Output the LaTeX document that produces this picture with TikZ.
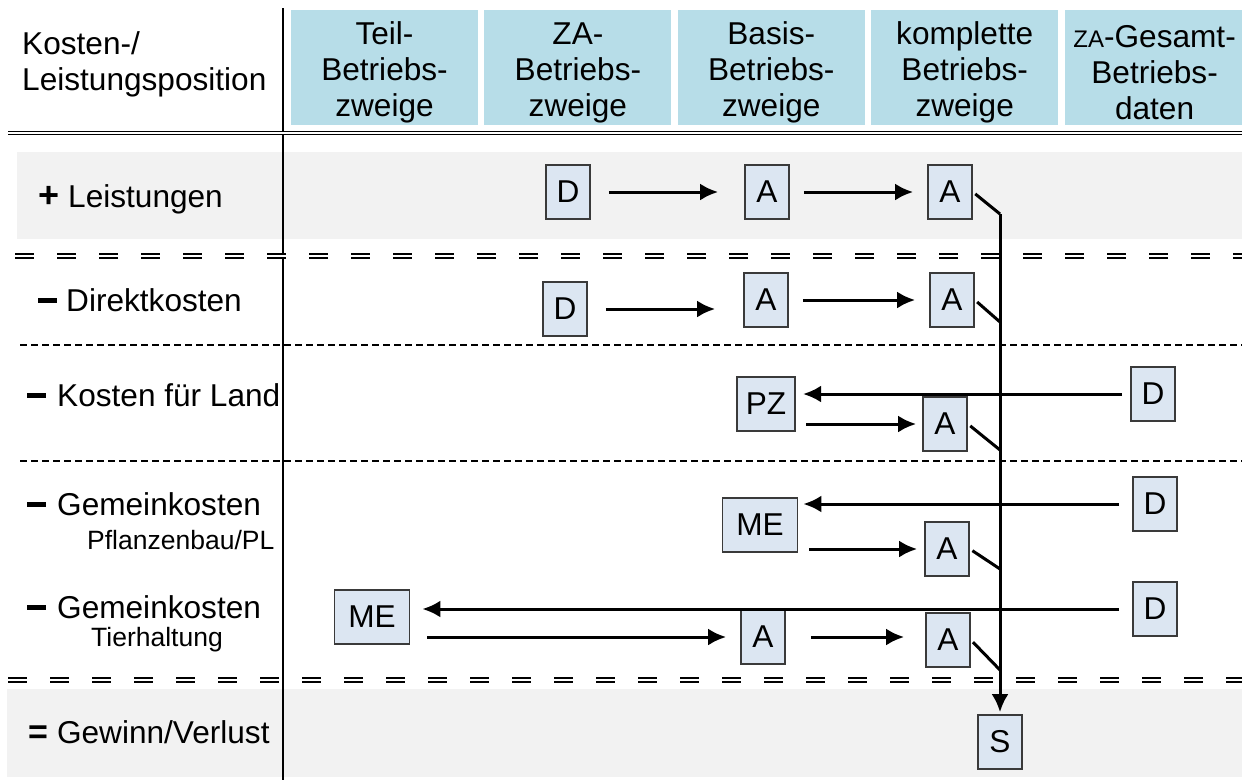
\documentclass[tikz,border=0pt]{standalone}
\usepackage{fontspec}
\setmainfont{Liberation Sans}
\usepackage{tikz}
\usetikzlibrary{arrows.meta,calc,positioning}

\definecolor{headblue}{HTML}{B7DDE8}
\definecolor{boxfill}{HTML}{DCE6F2}
\definecolor{boxline}{HTML}{3A3A3A}
\definecolor{bandgray}{HTML}{F2F2F2}

\newcommand{\bigfont}{\fontsize{31.6}{36}\selectfont}
\newcommand{\smallfont}{\fontsize{26.5}{30}\selectfont}
\newcommand{\minusbar}{\rule[8.5pt]{19pt}{5pt}}

\begin{document}
\begin{tikzpicture}[
  x=1pt, y=-1pt,
  headbox/.style={fill=headblue, minimum width=187pt, minimum height=115pt, inner sep=0pt},
  headtext/.style={align=center, font=\bigfont, inner sep=0pt, yshift=-5pt},
  valbox/.style={draw=boxline, fill=boxfill, line width=1.8pt, minimum width=44pt, minimum height=54pt, inner xsep=9pt, inner ysep=0pt, font=\bigfont},
  rowlabel/.style={anchor=base west, inner sep=0pt, font=\bigfont},
  sublabel/.style={anchor=base west, inner sep=0pt, font=\smallfont},
  ]
  \tikzset{%
    flow/.style={
      line width=3pt,
      -{Latex[length=18pt,width=17pt]},
      shorten <=14pt, shorten >=14pt,
    },
    spoke/.style={
      line width=3pt, shorten <=3pt,
    },
    twodash/.style={
      double, line width=1.6pt, double distance=2.2pt,
      dash pattern=on 19pt off 23pt,
    },
    onedash/.style={
      line width=1.6pt, dash pattern=on 7pt off 4pt,
    },
  }
  \useasboundingbox (0,0) rectangle (1242,780);
  %Bands
  \fill[bandgray] (17,152) rectangle (1242,239);
  \fill[bandgray] (7,689) rectangle (1242,777);
  %Separators
  \draw[line width=1.5pt] (283,8) -- (283,780);
  \draw[double, line width=1.3pt, double distance=1.4pt] (8,133) -- (1242,133);
  \draw[twodash] (15,256) -- (1242,256);
  \draw[onedash] (20,345) -- (1242,345);
  \draw[onedash] (20,461) -- (1242,461);
  \draw[twodash] (8,680) -- (1242,680);
  %Header
  \node[headbox] (h1) at (384.5,67.5) {};
  \node[headbox, right=6pt of h1] (h2) {};
  \node[headbox, right=6pt of h2] (h3) {};
  \node[headbox, right=6pt of h3] (h4) {};
  \node[headbox, right=6pt of h4, minimum width=180pt] (h5) {};
  \node[headtext] (t1) at (h1) {Teil-\\Betriebs-\\zweige};
  \node[headtext] (t2) at (h2) {ZA-\\Betriebs-\\zweige};
  \node[headtext] (t3) at (h3) {Basis-\\Betriebs-\\zweige};
  \node[headtext] (t4) at (h4) {komplette\\Betriebs-\\zweige};
  \node[headtext] (t5) at (h5) {{\fontsize{24}{36}\selectfont ZA}-Gesamt-\\Betriebs-\\daten};
  \node[anchor=west, align=left, font=\bigfont, inner sep=0pt] (kopf) at (22,64) {Kosten-/\\Leistungsposition};
  %Row labels
  \node[rowlabel] (leist) at (38,207) {\textbf{\fontsize{36}{36}\selectfont +}\hspace{9pt}Leistungen};
  \node[rowlabel] (direkt) at (38,311) {\minusbar\hspace{9pt}Direktkosten};
  \node[rowlabel] (land) at (27,406) {\minusbar\hspace{11pt}Kosten für Land};
  \node[rowlabel] (gkpl) at (27,515) {\minusbar\hspace{11pt}Gemeinkosten};
  \node[sublabel] (pl) at (87,549) {Pflanzenbau/PL};
  \node[rowlabel] (gktier) at (27,618) {\minusbar\hspace{11pt}Gemeinkosten};
  \node[sublabel] (tier) at (91,646) {Tierhaltung};
  \node[rowlabel] (gewinn) at (28,743) {\textbf{\fontsize{34}{34}\selectfont =}\hspace{9pt}Gewinn/Verlust};
  %Boxes
  \node[valbox] (dl) at (568,192) {D};
  \node[valbox] (al1) at (767,192) {A};
  \node[valbox] (al2) at (950,192) {A};
  \node[valbox] (dd) at (565,309) {D};
  \node[valbox] (ad1) at (766,300) {A};
  \node[valbox] (ad2) at (952,300) {A};
  \node[valbox] (dland) at (1153,394) {D};
  \node[valbox] (pz) at (766,404) {PZ};
  \node[valbox] (aland) at (945,424) {A};
  \node[valbox] (dpl) at (1155,504) {D};
  \node[valbox, minimum width=75pt] (mepl) at (760,525) {ME};
  \node[valbox] (apl) at (947,549) {A};
  \node[valbox] (dtier) at (1155,609) {D};
  \node[valbox, minimum width=75pt] (metier) at (372,617) {ME};
  \node[valbox] (atier1) at (763,637) {A};
  \node[valbox] (atier2) at (948,640) {A};
  \node[valbox] (s) at (1000,742) {S};
  %Arrows
  \draw[flow, shorten <=18pt, shorten >=26pt] (dl) -- (al1);
  \draw[flow] (al1) -- (al2);
  \draw[flow, shorten <=18pt, shorten >=28pt] (dd.east) -- (dd.east -| ad1.west);
  \draw[flow] (ad1) -- (ad2);
  \draw[flow, shorten <=8pt, shorten >=7pt] (dland.west) -- (dland.west -| pz.east);
  \draw[flow, shorten <=10pt, shorten >=6pt] (aland.west -| pz.east) -- (aland.west);
  \draw[flow, shorten <=13pt, shorten >=5pt] (dpl.west) -- (dpl.west -| mepl.east);
  \draw[flow, shorten <=11pt, shorten >=7pt] (apl.west -| mepl.east) -- (apl.west);
  \draw[flow, shorten <=13pt, shorten >=12pt] (dtier.west) -- (dtier.west -| metier.east);
  \draw[flow, shorten <=17pt, shorten >=14pt] (atier1.west -| metier.east) -- (atier1.west);
  \draw[flow, shorten <=25pt, shorten >=21pt] (atier1.east) -- (atier1.east -| atier2.west);
  %Sum line
  \draw[spoke] (al2.east) -- ($(s.north |- al2.east)+(0,22)$);
  \draw[spoke] (ad2.east) -- ($(s.north |- ad2.east)+(0,22)$);
  \draw[spoke] (aland.east) -- ($(s.north |- aland.east)+(0,26)$);
  \draw[spoke] (apl.east) -- ($(s.north |- apl.east)+(0,20)$);
  \draw[spoke] (atier2.east) -- ($(s.north |- atier2.east)+(0,30)$);
  \draw[flow, shorten <=0pt, shorten >=2pt] ($(s.north |- al2.east)+(0,22)$) -- (s.north);
\end{tikzpicture}
\end{document}
